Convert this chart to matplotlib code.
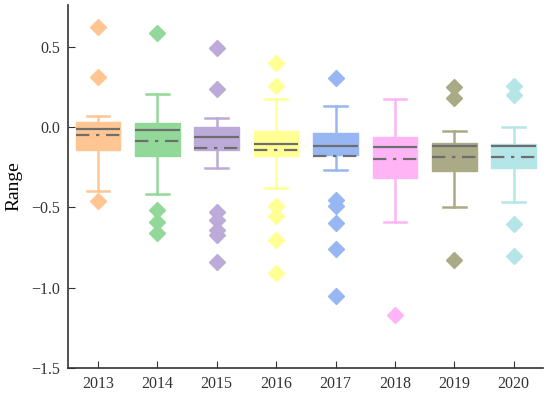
import matplotlib.pyplot as plt
import numpy as np

years = ['2013', '2014', '2015', '2016', '2017', '2018', '2019', '2020']
colors = ['#FFC592', '#92D898', '#BCAAD8', '#FFFF94', '#98B7F2', '#FFB4F6', '#AAAA86', '#B4E6E8']

q1 = [-0.143, -0.184, -0.143, -0.184, -0.176, -0.317, -0.273, -0.253]
med = [-0.015, -0.020, -0.060, -0.106, -0.116, -0.124, -0.118, -0.122]
q3 = [0.033, 0.027, 0.002, -0.023, -0.037, -0.064, -0.101, -0.104]
mean = [-0.048, -0.085, -0.130, -0.145, -0.182, -0.197, -0.186, -0.186]
whislo = [-0.40, -0.418, -0.255, -0.379, -0.267, -0.594, -0.499, -0.466]
whishi = [0.068, 0.207, 0.056, 0.174, 0.130, 0.174, -0.025, -0.002]
fliers = [
    [0.62, 0.31, -0.46],
    [0.586, -0.516, -0.594, -0.66],
    [0.49, 0.234, -0.532, -0.582, -0.64, -0.671, -0.84],
    [0.396, 0.255, -0.495, -0.553, -0.706, -0.909],
    [0.304, -0.458, -0.495, -0.598, -0.76, -1.05],
    [-1.168],
    [0.246, 0.182, -0.83],
    [0.255, 0.199, -0.602, -0.805],
]

plt.rcParams['font.family'] = ['Liberation Serif', 'DejaVu Serif']

fig = plt.figure(figsize=(5.5, 3.96), dpi=100)
ax = fig.add_axes([0.124, 0.071, 0.864, 0.917])

stats = []
for i in range(len(years)):
    stats.append(dict(med=med[i], q1=q1[i], q3=q3[i], mean=mean[i],
                      whislo=whislo[i], whishi=whishi[i], fliers=fliers[i]))

bp = ax.bxp(stats, positions=np.arange(len(years)), widths=0.75, capwidths=0.38,
            patch_artist=True, showmeans=True, meanline=True,
            medianprops=dict(color='#6e6e6e', linewidth=1.6),
            meanprops=dict(color='#6e6e6e', linestyle=(0, (6, 3, 1.5, 3)), linewidth=1.6))

for i, c in enumerate(colors):
    bp['boxes'][i].set_facecolor(c)
    bp['boxes'][i].set_edgecolor(c)
    for w in bp['whiskers'][2 * i:2 * i + 2]:
        w.set_color(c)
        w.set_linewidth(1.8)
    for cp in bp['caps'][2 * i:2 * i + 2]:
        cp.set_color(c)
        cp.set_linewidth(1.8)
    bp['fliers'][i].set(marker='D', markersize=8, markerfacecolor=c,
                        markeredgecolor=c)

ax.set_xticks(np.arange(len(years)))
ax.set_xticklabels(years)
ax.set_xlim(-0.5, 7.5)
ax.set_ylim(-1.5, 0.76)
ax.set_yticks([0.5, 0.0, -0.5, -1.0, -1.5])
ax.tick_params(direction='in', length=5, labelsize=11.5, colors='#333333', pad=6)
ax.set_ylabel('Range', fontsize=14, labelpad=6)
ax.spines['top'].set_visible(False)
ax.spines['right'].set_visible(False)
for s in ['left', 'bottom']:
    ax.spines[s].set_color('#333333')
    ax.spines[s].set_linewidth(1.2)

plt.savefig('out.png')
